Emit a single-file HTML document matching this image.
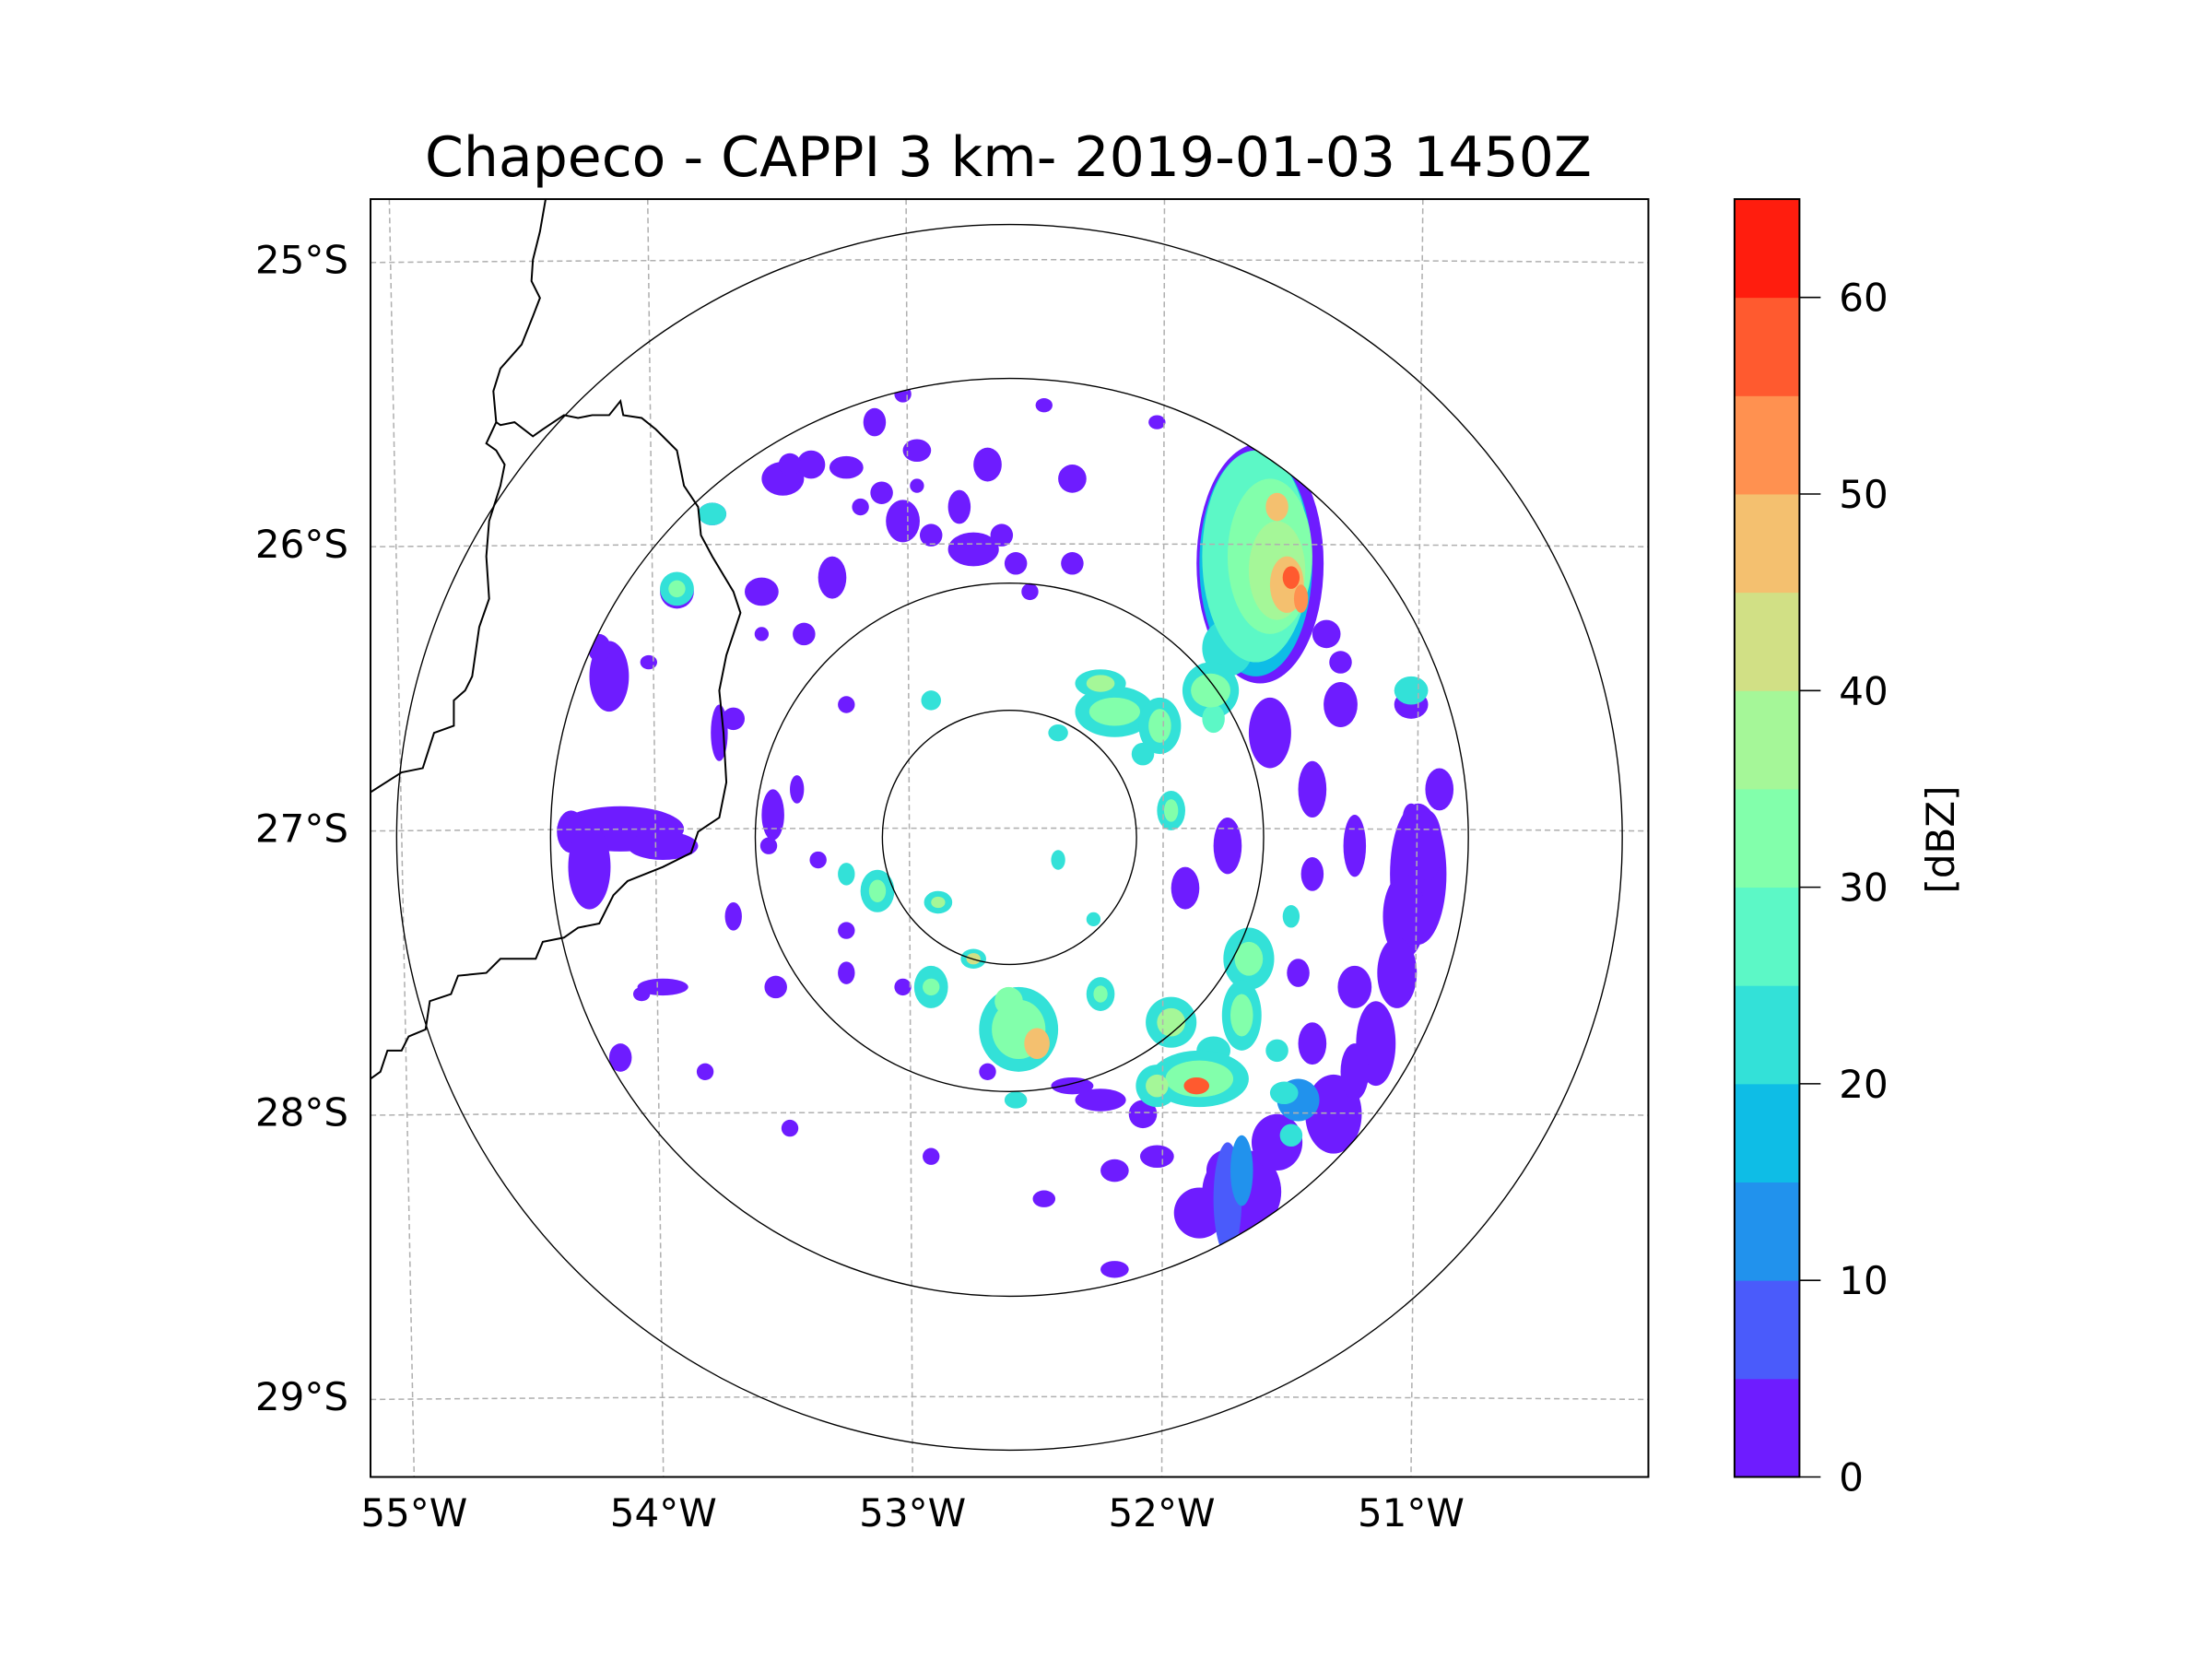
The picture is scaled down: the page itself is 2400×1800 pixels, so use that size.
<!DOCTYPE html>
<html><head><meta charset="utf-8"><style>
html,body{margin:0;padding:0;background:#fff;}
svg{display:block;}
text{font-family:"DejaVu Sans","Liberation Sans",sans-serif;fill:#000;}
</style></head><body>
<svg id="fig" width="2400" height="1800" viewBox="0 0 2400 1800" xmlns="http://www.w3.org/2000/svg">
<defs><clipPath id="radarClip"><circle cx="715.5" cy="594" r="325"/></clipPath>
<clipPath id="axClip"><rect x="263" y="142" width="905" height="905"/></clipPath></defs>
<text x="1094" y="191" font-size="60" text-anchor="middle">Chapeco - CAPPI 3 km- 2019-01-03 1450Z</text>
<g id="map" transform="matrix(1.532 0 0 1.532 -0.9 -1.5)">
  <g id="echoes" clip-path="url(#radarClip)"></g>
  <g id="grid" clip-path="url(#axClip)"></g>
  <g clip-path="url(#axClip)" fill="none" stroke="#000" stroke-width="1.3">
    <path d="M387,142 L383,165 L378,185 L377,200 L383,212 L378,225 L370,245 L355,262 L350,278 L352,300 L345,315 L352,320 L358,330 L355,345 L347,370 L345,395 L347,425 L340,445 L335,480 L330,490 L322,497 L322,515 L308,520 L300,545 L285,548 L263,562"/>
    <path d="M263,765 L270,760 L275,745 L285,745 L290,735 L302,730 L305,710 L320,705 L325,692 L345,690 L355,680 L380,680 L385,668 L400,665 L410,658 L425,655 L435,635 L445,625 L470,615 L490,605 L495,590 L510,580 L515,555 L513,520 L510,490 L515,465 L525,435 L520,420 L505,395 L497,380 L495,360 L485,345 L480,320 L465,305 L455,297 L442,295 L440,285 L432,295 L420,295 L410,297 L400,295 L385,305 L378,310 L365,300 L355,302 L352,300"/>
  </g>
  <g fill="none" stroke="#000" stroke-width="0.9" clip-path="url(#axClip)">
    <circle cx="715.5" cy="594" r="90"/>
    <circle cx="715.5" cy="594" r="180"/>
    <circle cx="715.5" cy="594" r="325"/>
    <circle cx="715.5" cy="594" r="434"/>
  </g>
  <rect x="263" y="142" width="905" height="905" fill="none" stroke="#000" stroke-width="1.3"/>
  <g id="cbar"></g>
</g>
<g id="labels"></g>
<text transform="translate(2120,911) rotate(-90)" font-size="42" text-anchor="middle">[dBZ]</text>
<script>
const NS="http://www.w3.org/2000/svg";
const levelColors=["#6e1cff","#4a5bfb","#2192ed","#0ebde6","#33e1d8","#5cf8c6","#82ffab","#a5f798","#d1e085","#f4c06f","#ff9150","#ff5a2f","#ff1d0e"];
const cbarTicks=[0,10,20,30,40,50,60];
const latTicks=[-25,-26,-27,-28,-29];
const lonTicks=[-55,-54,-53,-52,-51];
// echo cells in map units: x, y, radii, dBZ
const echoX=[440,470,405,418,432,425,1005,1012,995,990,975,945,960,880,870,905,850,555,575,600,625,640,660,690,710,620,700,740,760,540,590,570,520,548,510,520,470,440,500,550,600,780,760,810,790,820,870,900,930,960,950,1000,940,600,565,580,600,640,700,660,740,790,560,640,820,870,590,560,650,680,720,760,840,960,930,920,1020,480,505,610,650,730,540,980,1000,930,950,545,460,455,
893,890,890,900,905,912,922,905,915,870,858,858,860,790,790,822,822,810,780,780,830,830,885,885,830,830,880,880,860,850,850,848,820,820,905,910,915,722,722,735,715,690,690,665,665,622,622,660,660,780,780,720,660,750,750,775,600,480,480,505,1000,915,870,880,920];
const echoY=[588,600,590,615,480,460,620,600,650,690,740,790,760,845,830,810,860,340,330,332,350,370,380,390,380,300,330,288,340,420,410,450,510,578,520,650,700,750,760,700,690,780,770,790,830,820,600,520,560,600,500,500,450,500,560,610,660,700,760,820,850,900,800,280,300,300,280,330,320,360,400,400,630,700,740,690,560,420,365,360,345,420,450,820,580,620,470,600,470,705,
400,400,395,395,405,415,425,360,410,460,490,490,510,505,505,515,515,535,485,485,575,575,680,680,725,725,720,720,745,765,765,770,770,770,745,775,805,730,730,740,710,680,680,640,640,632,632,700,700,705,705,780,497,520,610,652,620,418,418,365,490,650,850,830,780];
const echoRx=[45,25,10,15,14,8,20,10,15,14,14,20,10,28,15,18,18,15,10,12,8,12,8,18,8,8,10,6,10,12,10,8,8,8,6,6,18,8,6,8,6,18,15,10,10,12,10,15,10,8,12,12,10,6,5,6,6,6,6,6,8,10,6,6,6,5,8,8,10,8,8,8,10,12,10,8,10,12,10,6,5,6,5,8,6,8,8,6,6,6,
45,40,38,30,20,12,5,8,6,18,20,14,8,28,18,15,8,8,18,10,10,5,18,10,18,10,14,8,12,35,24,9,15,8,8,10,8,28,19,9,10,9,5,10,5,12,6,12,6,10,5,8,7,7,5,5,6,12,6,10,12,6,10,8,15];
const echoRy=[16,10,15,30,25,10,50,25,30,25,30,28,20,30,15,20,18,12,10,8,8,15,8,12,8,10,12,5,10,10,15,8,8,18,20,10,6,10,6,8,8,8,6,10,8,8,20,25,20,22,16,10,10,6,10,6,6,6,6,6,6,6,6,6,5,5,6,8,8,12,8,8,15,15,15,10,15,12,8,6,5,6,5,6,10,12,8,6,5,5,
85,80,75,55,35,20,10,10,8,20,20,12,10,18,10,20,12,8,10,6,14,8,22,12,18,10,25,15,10,20,13,6,15,8,8,8,8,30,21,11,10,7,4,8,4,15,8,15,6,12,6,6,7,6,7,5,8,12,6,8,10,8,40,25,15];
const echoDbz=[2,2,2,2,2,2,2,2,2,2,2,2,2,2,2,2,2,2,2,2,2,2,2,2,2,2,2,2,2,2,2,2,2,2,2,2,2,2,2,2,2,2,2,2,2,2,2,2,2,2,2,2,2,2,2,2,2,2,2,2,2,2,2,2,2,2,2,2,2,2,2,2,2,2,2,2,2,2,2,2,2,2,2,2,2,2,2,2,2,2,
2,17,27,33,37,45,52,48,55,22,22,32,28,22,32,22,32,22,22,35,22,32,22,32,22,35,22,32,22,22,32,57,22,35,22,22,22,22,32,48,32,22,40,22,35,22,32,22,32,22,32,22,22,22,22,22,22,22,32,22,22,22,7,12,12];
const eg=document.getElementById('echoes');
const order=echoDbz.map((d,i)=>i).sort((a,b)=>echoDbz[a]-echoDbz[b]);
for(const i of order){
  const e=document.createElementNS(NS,'ellipse');
  
  
  e.setAttribute('cx',echoX[i]);e.setAttribute('cy',echoY[i]);
  e.setAttribute('rx',echoRx[i]);e.setAttribute('ry',echoRy[i]);
  e.setAttribute('fill',levelColors[Math.min(12,Math.floor(echoDbz[i]/5))]);
  eg.appendChild(e);
}
function lonX(lon,yFrac){const top=715.5+(lon+52.6)*183,bot=715.5+(lon+52.6)*176.5+2;return top+(bot-top)*yFrac;}
function latY(lat){return 588-(lat+27)*201.3;}
const gg=document.getElementById('grid');
for(const lat of latTicks){
  const y=latY(lat);
  const p=document.createElementNS(NS,'path');
  
  
  p.setAttribute('d',`M263,${y+1.5} Q715,${y-2.5} 1168,${y+1.5}`);
  p.setAttribute('fill','none');p.setAttribute('stroke','#b0b0b0');p.setAttribute('stroke-width','1');p.setAttribute('stroke-dasharray','4 2.6');
  gg.appendChild(p);
}
for(const lon of lonTicks){
  const l=document.createElementNS(NS,'line');
  
  
  l.setAttribute('x1',lonX(lon,0));l.setAttribute('y1',142);l.setAttribute('x2',lonX(lon,1));l.setAttribute('y2',1047);
  l.setAttribute('stroke','#b0b0b0');l.setAttribute('stroke-width','1');l.setAttribute('stroke-dasharray','4 2.6');
  gg.appendChild(l);
}
const cb=document.getElementById('cbar');
const cbTop=142,cbBot=1047,cbMax=65;
function cbY(v){return cbBot-(v/cbMax)*(cbBot-cbTop);}
levelColors.forEach((c,i)=>{
  const r=document.createElementNS(NS,'rect');
  
  
  r.setAttribute('x',1229);r.setAttribute('y',cbY((i+1)*5));r.setAttribute('width',46);r.setAttribute('height',cbY(i*5)-cbY((i+1)*5)+0.3);r.setAttribute('fill',c);
  cb.appendChild(r);
});
const fr=document.createElementNS(NS,'rect');


fr.setAttribute('x',1229);fr.setAttribute('y',142);fr.setAttribute('width',46);fr.setAttribute('height',905);fr.setAttribute('fill','none');fr.setAttribute('stroke','#000');fr.setAttribute('stroke-width','1.3');
cb.appendChild(fr);
const S=1.532,OX=-0.9,OY=-1.5;
const lg=document.getElementById('labels');
for(const v of cbarTicks){
  const t=document.createElementNS(NS,'line');
  
  
  t.setAttribute('x1',1275);t.setAttribute('x2',1290);t.setAttribute('y1',cbY(v));t.setAttribute('y2',cbY(v));t.setAttribute('stroke','#000');t.setAttribute('stroke-width','1');
  cb.appendChild(t);
  const tx=document.createElementNS(NS,'text');
  
  
  tx.setAttribute('x',1303*S+OX);tx.setAttribute('y',cbY(v)*S+OY+15);tx.setAttribute('font-size','42');
  tx.textContent=String(v);lg.appendChild(tx);
}
for(const lat of latTicks){
  const tx=document.createElementNS(NS,'text');
  
  
  tx.setAttribute('x',378);tx.setAttribute('y',latY(lat)*S+OY+14);tx.setAttribute('font-size','42');tx.setAttribute('text-anchor','end');
  tx.textContent=Math.abs(lat)+'°S';lg.appendChild(tx);
}
for(const lon of lonTicks){
  const tx=document.createElementNS(NS,'text');
  
  
  tx.setAttribute('x',lonX(lon,1)*S+OX);tx.setAttribute('y',1656);tx.setAttribute('font-size','42');tx.setAttribute('text-anchor','middle');
  tx.textContent=Math.abs(lon)+'°W';lg.appendChild(tx);
}
</script>
</svg>
</body></html>
